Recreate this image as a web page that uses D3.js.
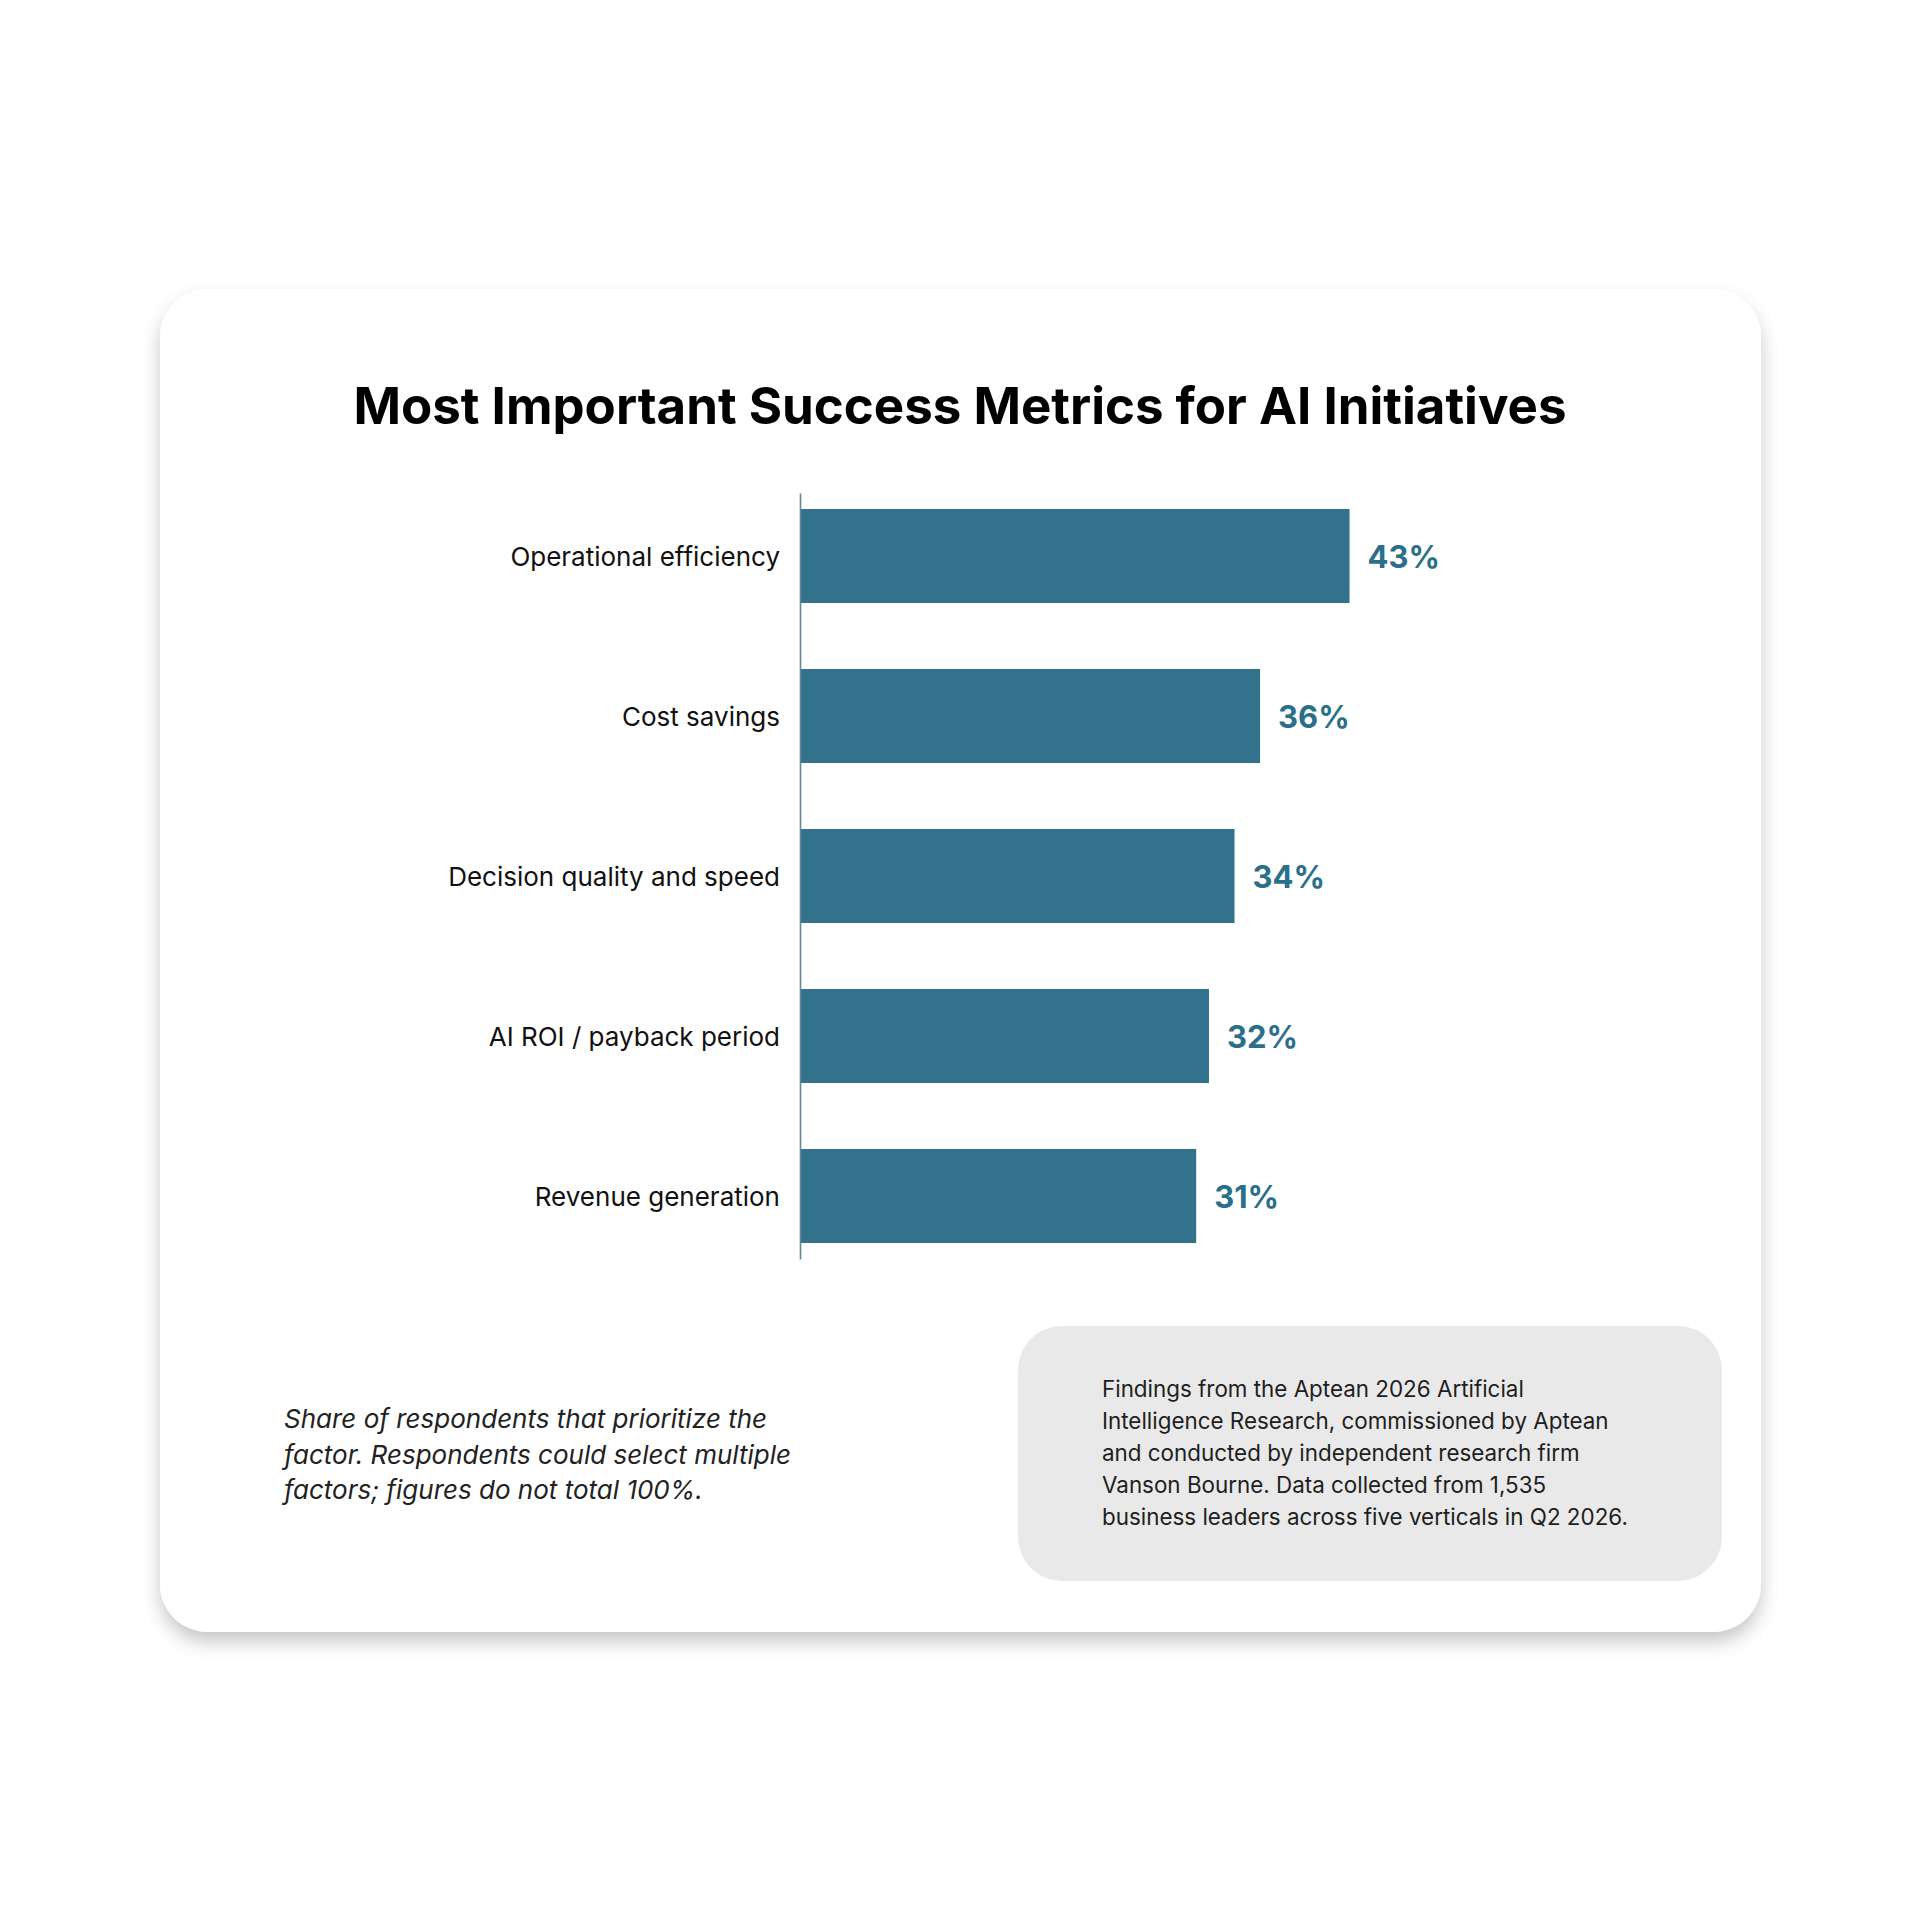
<!DOCTYPE html>
<html>
<head>
<meta charset="utf-8">
<script src="https://cdn.jsdelivr.net/npm/d3@7"></script>
<style>
  html, body { margin: 0; padding: 0; background: #ffffff; }
  svg { display: block; }
</style>
</head>
<body>
<script>
const titleText = "Most Important Success Metrics for AI Initiatives";
const categories = ["Operational efficiency", "Cost savings", "Decision quality and speed", "AI ROI / payback period", "Revenue generation"];
const values = [43, 36, 34, 32, 31];
const footnoteLines = [
  "Share of respondents that prioritize the",
  "factor. Respondents could select multiple",
  "factors; figures do not total 100%."
];
const sourceLines = [
  "Findings from the Aptean 2026 Artificial",
  "Intelligence Research, commissioned by Aptean",
  "and conducted by independent research firm",
  "Vanson Bourne. Data collected from 1,535",
  "business leaders across five verticals in Q2 2026."
];

const W = 1920, H = 1920;
const font = "Inter, 'Noto Sans', sans-serif";
const svg = d3.select("body").append("svg").attr("width", W).attr("height", H);

const defs = svg.append("defs");
const filt = defs.append("filter").attr("id", "shadow")
  .attr("x", "-10%").attr("y", "-10%").attr("width", "120%").attr("height", "125%");
filt.append("feDropShadow").attr("dx", 0).attr("dy", 10).attr("stdDeviation", 9)
  .attr("flood-color", "#000").attr("flood-opacity", 0.22);

// Card
svg.append("rect").attr("x", 160).attr("y", 289).attr("width", 1601).attr("height", 1343)
  .attr("rx", 48).attr("fill", "#ffffff").attr("filter", "url(#shadow)");

// Title
svg.append("text").attr("x", 960).attr("y", 424).attr("text-anchor", "middle")
  .attr("font-family", font).attr("font-weight", 700).attr("font-size", 51)
  .attr("fill", "#000").text(titleText);

// Scales
const x0 = 800;
const x = d3.scaleLinear().domain([0, 50]).range([x0, x0 + 639]);
const y = d3.scaleBand().domain(categories).range([493, 1259]).paddingInner(0.4125).paddingOuter(0.1);

const g = svg.append("g");
g.selectAll("rect.bar").data(values).join("rect").attr("class", "bar")
  .attr("x", x(0)).attr("y", (d, i) => y(categories[i]))
  .attr("width", d => x(d) - x(0)).attr("height", y.bandwidth())
  .attr("fill", "#32728c");

// Axis line via d3 axis
const yAxis = d3.axisLeft(y).tickSize(0).tickPadding(20);
const ag = svg.append("g").attr("transform", `translate(${x0},0)`).call(yAxis);
ag.select(".domain").attr("stroke", "#5f8797").attr("stroke-width", 1.6);
ag.selectAll(".tick text").attr("font-family", font).attr("font-size", 26)
  .attr("fill", "#111").attr("dy", "0.4em");

// Value labels
g.selectAll("text.val").data(values).join("text").attr("class", "val")
  .attr("x", d => x(d) + 18).attr("y", (d, i) => y(categories[i]) + y.bandwidth() / 2)
  .attr("dy", "0.4em").attr("font-family", font).attr("font-weight", 700)
  .attr("font-size", 31).attr("fill", "#2b6f8b").text(d => d + "%");

// Footnote
const fn = svg.append("text").attr("font-family", font).attr("font-style", "italic")
  .attr("font-size", 26).attr("fill", "#222");
footnoteLines.forEach((l, i) => {
  fn.append("tspan").attr("x", 284).attr("y", 1428 + i * 35.5).text(l);
});

// Source box
svg.append("rect").attr("x", 1018).attr("y", 1326).attr("width", 704).attr("height", 255)
  .attr("rx", 44).attr("fill", "#e9e9e9");
const st = svg.append("text").attr("font-family", font).attr("font-size", 22.4).attr("fill", "#1e1e1e");
sourceLines.forEach((l, i) => {
  st.append("tspan").attr("x", 1102).attr("y", 1397 + i * 32).text(l);
});
</script>
</body>
</html>
